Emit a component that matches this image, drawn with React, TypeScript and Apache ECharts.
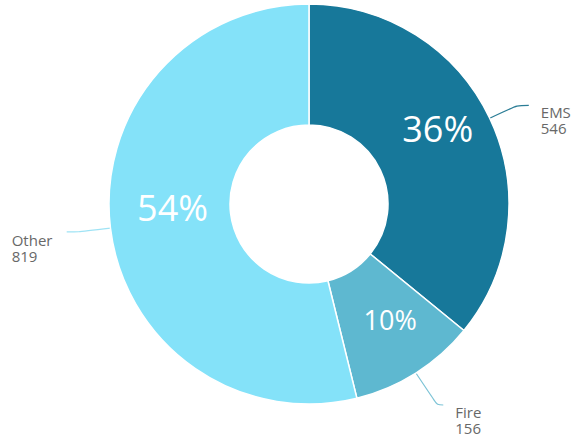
import React, { useEffect, useRef } from "react";
import * as echarts from "echarts";

const categories = ["EMS", "Fire", "Other"];
const values = [546, 156, 819];
const colors = ["#17789a", "#5eb8d0", "#84e2f9"];
const lineColors = ["#2b7d96", "#7cc3d6", "#9fe3f5"];
const pctFontSizes = [36, 27, 36];
const pctOffsets = [[0, -14], [5, -5], [5, -14]];
const lineLengths = [30, 40, 32];
const lineLengths2 = [12, 6, 12];
const labelPads = [30, 30, 32];

export default function App() {
  const ref = useRef<HTMLDivElement>(null);
  useEffect(() => {
    if (!ref.current) return;
    const chart = echarts.init(ref.current, undefined, { renderer: "svg" });
    const total = values.reduce((a, b) => a + b, 0);
    const center = [309, 204];
    const radius = [79, 200];
    chart.setOption({
      animation: false,
      backgroundColor: "#ffffff",
      series: [
        {
          type: "pie",
          center,
          radius,
          startAngle: 90,
          clockwise: true,
          silent: true,
          itemStyle: { borderColor: "#ffffff", borderWidth: 1.5 },
          label: {
            show: true,
            position: "inside",
            color: "#ffffff",
            fontFamily: "Open Sans",
            formatter: (p: any) => Math.round((p.value / total) * 100) + "%",
          },
          labelLine: { show: false },
          data: categories.map((c, i) => ({
            name: c,
            value: values[i],
            itemStyle: { color: colors[i] },
            label: { fontSize: pctFontSizes[i], offset: pctOffsets[i] },
          })),
        },
        {
          type: "pie",
          center,
          radius,
          startAngle: 90,
          clockwise: true,
          silent: true,
          itemStyle: { color: "rgba(0,0,0,0)", borderWidth: 0 },
          label: {
            show: true,
            position: "outside",
            color: "#686868",
            fontFamily: "Open Sans",
            fontSize: 15,
            lineHeight: 16,
            overflow: "none",
            distanceToLabelLine: 12,
            formatter: "{t|{b}}\n{t|{c}}",
            rich: {
              t: {
                fontFamily: "Open Sans",
                fontSize: 15,
                lineHeight: 16,
                color: "#686868",
                width: 43,
                align: "left",
              },
            },
          },
          labelLine: { show: true, length: 30, length2: 12, smooth: 0.3 },
          data: categories.map((c, i) => ({
            name: c,
            value: values[i],
            label: { padding: [labelPads[i], 0, 0, 0] },
            labelLine: {
              length: lineLengths[i],
              length2: lineLengths2[i],
              lineStyle: { color: lineColors[i], width: 1.2 },
            },
          })),
        },
      ],
    });
    return () => chart.dispose();
  }, []);
  return (
    <div
      ref={ref}
      style={{ position: "fixed", left: 0, top: 0, width: 578, height: 437 }}
    />
  );
}
